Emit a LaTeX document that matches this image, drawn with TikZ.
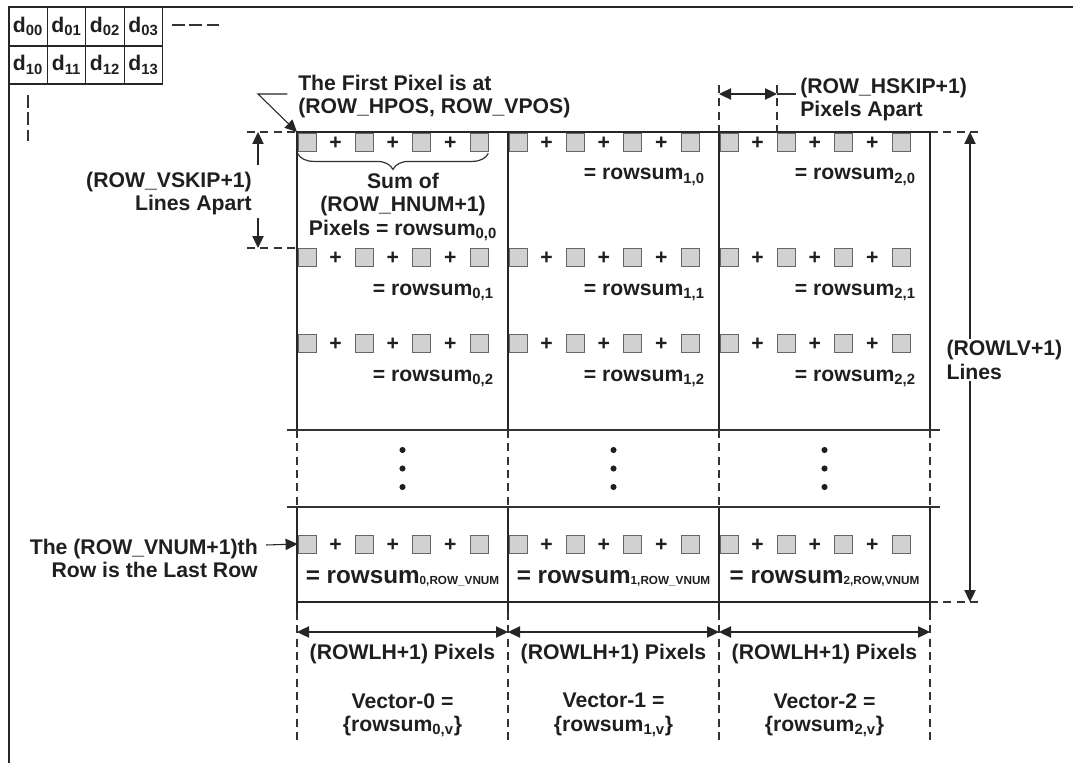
\documentclass[tikz,border=0pt]{standalone}
\usepackage{fontspec}
\setmainfont{Liberation Sans}
\usetikzlibrary{arrows.meta, positioning, calc, decorations.pathreplacing}
\newcommand{\lowsub}[1]{\raisebox{-1pt}{\fontsize{8.8}{8.8}\selectfont #1}}

\begin{document}
\begin{tikzpicture}[
    x=0.75pt, y=-0.75pt,
    font=\fontsize{15.9}{17.5}\selectfont\bfseries,
    every node/.style={text=black!88},
    frame_line/.style={line width=1.6pt, draw=black!85},
    grid_line/.style={line width=1.8pt, draw=black!85, line cap=rect},
    thin_line/.style={line width=0.9pt, draw=black!80},
    ext_line/.style={line width=0.8pt, draw=black!80, dash pattern=on 6pt off 4pt},
    mark_dash/.style={line width=0.8pt, draw=black!80, dash pattern=on 9.5pt off 3.5pt},
    cell/.style={draw=black!85, line width=0.9pt, minimum width=28.9pt, minimum height=28.6pt, inner sep=0pt},
    pixel/.style={draw=black!60, fill=black!18, line width=0.6pt, minimum size=13.5pt, inner sep=0pt},
    plus_sign/.style={inner sep=0pt},
    dim_arrow/.style={line width=0.8pt, draw=black!85, {Triangle[length=9pt,width=8.5pt]}-{Triangle[length=9pt,width=8.5pt]}},
    lead_arrow/.style={line width=0.8pt, draw=black!85, -{Triangle[length=9pt,width=8.5pt]}},
    note/.style={inner sep=0pt},
    sum_label/.style={inner sep=0pt, anchor=base east},
    last_sum/.style={inner sep=0pt, anchor=base, font=\fontsize{18.2}{18.2}\selectfont\bfseries}
]
\useasboundingbox (0,0) rectangle (1073,763);

% Outer frame (top and left sides only)
\coordinate (fr_tr) at (1073,7);
\coordinate (fr_tl) at (9,7);
\coordinate (fr_bl) at (9,763);
\draw[frame_line] (fr_tr) -- (fr_tl) -- (fr_bl);

% Data matrix in the corner
\foreach \r in {0,1}
  \foreach \c in {0,...,3}
    \node[cell] (d\r\c) at ({28+38.5*\c},{26.5+38.5*\r}) {d\textsubscript{\r\c}};

\coordinate (dots_h0) at (172,25);
\coordinate (dots_h1) at (222,25);
\draw[mark_dash] (dots_h0) -- (dots_h1);
\coordinate (dots_v0) at (28,95);
\coordinate (dots_v1) at (28,141);
\draw[mark_dash] (dots_v0) -- (dots_v1);

% Column edges of the three vectors
\foreach \i/\x in {0/297,1/508,2/719,3/930} {
    \coordinate (top\i) at (\x,132);
    \coordinate (mid\i) at (\x,430);
    \coordinate (gap\i) at (\x,507);
    \coordinate (bot\i) at (\x,602);
    \coordinate (tail\i) at (\x,612);
    \coordinate (end\i) at (\x,740);
    \coordinate (dim\i) at (\x,632);
}

\draw[grid_line] (top0) -- (top3);
\foreach \i in {0,...,3} {
    \draw[grid_line] (top\i) -- (mid\i);
    \draw[ext_line] (mid\i) -- (gap\i);
    \draw[grid_line] (gap\i) -- (tail\i);
    \draw[ext_line] (tail\i) -- (end\i);
}
\draw[grid_line] (bot0) -- (bot3);
\draw[thin_line] ($(mid0)+(-10,0)$) -- ($(mid3)+(10,0)$);
\draw[thin_line] ($(gap0)+(-10,0)$) -- ($(gap3)+(10,0)$);

% Pixel rows: 4 pixels summed per row
\foreach \i/\x in {0/297,1/508,2/719} {
    \foreach \y in {142,257,343,544} {
        \foreach \k in {0,...,3}
            \node[pixel] (px\i-\y-\k) at ({\x+10+57.3*\k},\y) {};
        \foreach \k in {0,1,2}
            \node[plus_sign] (pl\i-\y-\k) at ({\x+38.6+57.3*\k},{\y+1.5}) {+};
    }
}

% Row sums
\foreach \i/\x in {1/508,2/719}
    \node[sum_label] (sum\i-0) at (\x+197,180) {= rowsum\textsubscript{\i,0}};
\foreach \i/\x in {0/297,1/508,2/719} {
    \node[sum_label] (sum\i-1) at (\x+197,295) {= rowsum\textsubscript{\i,1}};
    \node[sum_label] (sum\i-2) at (\x+197,381) {= rowsum\textsubscript{\i,2}};
}

% Brace under the first row of vector 0
\draw[thin_line, decorate, decoration={brace, mirror, amplitude=12pt}]
    ([yshift=-1.5pt]px0-142-0.south west) -- ([yshift=-1.5pt]px0-142-3.south east);
\node[note, align=center, anchor=north] (sum0-0) at (403,173)
    {Sum of\\(ROW\_HNUM+1)\\Pixels = rowsum\textsubscript{0,0}};

% Skipped rows
\foreach \x in {402.5,613.5,824.5}
    \foreach \y in {450,468.5,487}
        \fill[black!88] (\x,\y) circle[radius=2.3pt];

% Last row sums
\node[last_sum] (sum0-v) at (402.5,583) {= rowsum\lowsub{0,ROW\_VNUM}};
\node[last_sum] (sum1-v) at (613.5,583) {= rowsum\lowsub{1,ROW\_VNUM}};
\node[last_sum] (sum2-v) at (824.5,583) {= rowsum\lowsub{2,ROW,VNUM}};

% First pixel position
\node[note, align=left, anchor=north west] (firstpx) at (298,74.5)
    {The First Pixel is at\\(ROW\_HPOS, ROW\_VPOS)};
\coordinate (fp_b) at (258,94);
\draw[lead_arrow] ([xshift=-8pt]firstpx.west |- fp_b) -- (fp_b) -- (top0);

% Vertical skip between rows
\coordinate (vs_top) at (258,132);
\coordinate (vs_bot) at (258,248);
\coordinate (vs_a) at (258,165);
\coordinate (vs_b) at (258,218);
\coordinate (vs_e0) at (247,132);
\coordinate (vs_e1) at (247,248);
\draw[ext_line] (vs_e0) -- (top0);
\draw[ext_line] (vs_e1) -- (vs_e1 -| top0);
\draw[lead_arrow] (vs_a) -- (vs_top);
\draw[lead_arrow] (vs_b) -- (vs_bot);
\node[note, align=right, anchor=north east] (vskip) at (252,172)
    {(ROW\_VSKIP+1)\\Lines Apart};

% Horizontal skip between pixels
\coordinate (hs0) at (719,94);
\coordinate (hs1) at (777,94);
\coordinate (hs_e0) at (719,85);
\coordinate (hs_e1) at (777,85);
\draw[ext_line] (hs_e0) -- (top2);
\draw[ext_line] (hs_e1) -- (hs_e1 |- top2);
\draw[dim_arrow] (hs0) -- (hs1);
\node[note, align=left, anchor=north west] (hskip) at (800,78)
    {(ROW\_HSKIP+1)\\Pixels Apart};
\draw[thin_line] (hs1) -- ([xshift=-3pt]hskip.west |- hs1);

% Total height of the area
\coordinate (lv0) at (970,132);
\coordinate (lv1) at (970,602);
\draw[ext_line] (top3) -- ($(lv0)+(8,0)$);
\draw[ext_line] (bot3) -- ($(lv1)+(8,0)$);
\draw[dim_arrow] (lv0) -- (lv1);
\node[note, align=left, anchor=north west, fill=white, inner sep=1pt] (rowlv) at (945,339)
    {(ROWLV+1)\\Lines};

% Last row marker
\node[note, align=right, anchor=north east] (lastrow) at (258,539)
    {The (ROW\_VNUM+1)th\\Row is the Last Row};
\coordinate (lr_a) at (266,545);
\draw[lead_arrow] (lr_a) -- (px0-544-0.west);

% Widths of the vectors
\draw[dim_arrow] (dim0) -- (dim1);
\draw[dim_arrow] (dim1) -- (dim2);
\draw[dim_arrow] (dim2) -- (dim3);
\foreach \i/\x in {0/402.5,1/613.5,2/824.5} {
    \node[note, anchor=base] (lh\i) at (\x,659) {(ROWLH+1) Pixels};
    \node[note, align=center, anchor=north] (vec\i) at (\x,693)
        {Vector-\i{} =\\\{rowsum\textsubscript{\i,v}\}};
}

\end{tikzpicture}
\end{document}
